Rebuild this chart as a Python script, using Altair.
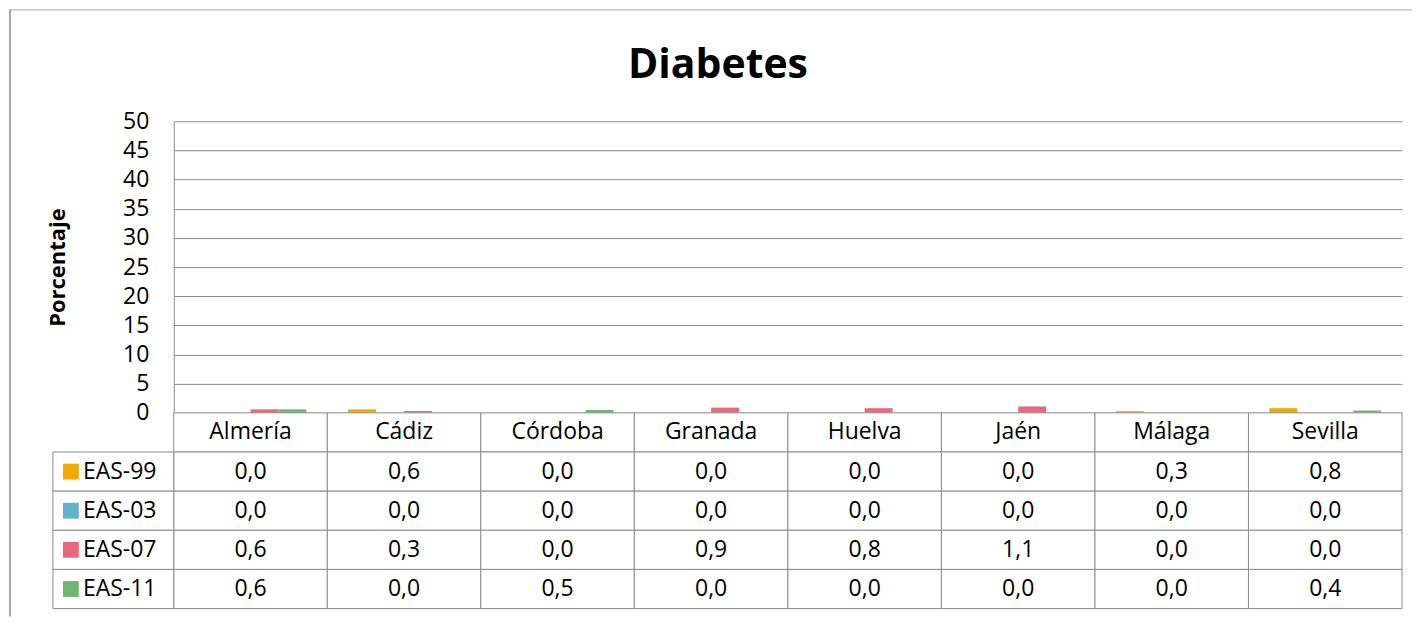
import altair as alt
import pandas as pd

categories = ["Almería", "Cádiz", "Córdoba", "Granada", "Huelva", "Jaén", "Málaga", "Sevilla"]
series = ["EAS-99", "EAS-03", "EAS-07", "EAS-11"]
eas99 = [0.0, 0.6, 0.0, 0.0, 0.0, 0.0, 0.3, 0.8]
eas03 = [0.0, 0.0, 0.0, 0.0, 0.0, 0.0, 0.0, 0.0]
eas07 = [0.6, 0.3, 0.0, 0.9, 0.8, 1.1, 0.0, 0.0]
eas11 = [0.6, 0.0, 0.5, 0.0, 0.0, 0.0, 0.0, 0.4]
colors = ["#F2A900", "#5FB4CC", "#E8687D", "#6BB86E"]
y_ticks = [0, 5, 10, 15, 20, 25, 30, 35, 40, 45, 50]
title_text = ["Diabetes"]

FONT = "Open Sans"
GRID = "#8C8C8C"
FRAME = "#A6A6A6"

values = [eas99, eas03, eas07, eas11]
rows = []
for s, vals in zip(series, values):
    for c, v in zip(categories, vals):
        rows.append({"cat": c, "series": s, "value": v,
                     "label": f"{v:.1f}".replace(".", ",")})
df = pd.DataFrame(rows)

HEADER = "hdr"
row_domain = [HEADER] + series
hdr = pd.DataFrame({"cat": categories, "series": HEADER, "label": categories})
table = pd.concat([hdr, df[["cat", "series", "label"]]], ignore_index=True)
legend_df = pd.DataFrame({"series": series})
one = pd.DataFrame({"a": [0]})
title_df = pd.DataFrame({"t": title_text})

W = 1230
H_TOP = 292
H_BOT = 196

color_scale = alt.Scale(domain=series, range=colors)

# ---- top: bar chart ----
bars = alt.Chart(df).mark_bar().encode(
    x=alt.X("cat:N", sort=categories, axis=None,
            scale=alt.Scale(paddingInner=0.2715, paddingOuter=0.13575)),
    xOffset=alt.XOffset("series:N", sort=series,
                        scale=alt.Scale(paddingInner=0, paddingOuter=0)),
    y=alt.Y("value:Q", scale=alt.Scale(domain=[0, 50], nice=False),
            axis=alt.Axis(values=y_ticks, grid=True, gridColor=GRID, ticks=False,
                          domainColor=GRID, labelFont=FONT, labelFontSize=23,
                          labelColor="black", labelPadding=25,
                          title="Porcentaje", titleFont=FONT, titleFontSize=22,
                          titleFontWeight="bold", titleColor="black",
                          titlePadding=53)),
    color=alt.Color("series:N", scale=color_scale, legend=None),
)

frame_top = alt.Chart(one).mark_rule(color=FRAME, strokeWidth=1).encode(
    x=alt.value(-165), x2=alt.value(1240), y=alt.value(-111.5))

title_mark = alt.Chart(title_df).mark_text(
    font=FONT, fontSize=41, fontWeight="bold", color="black",
    align="center", baseline="alphabetic").encode(
    x=alt.value(545), y=alt.value(-43), text="t:N")

top = alt.layer(bars, frame_top, title_mark).properties(width=W, height=H_TOP)

# ---- bottom: data table ----
cells = alt.Chart(table).mark_rect(fill="white", stroke=GRID, strokeWidth=1).encode(
    x=alt.X("cat:N", sort=categories, axis=None,
            scale=alt.Scale(paddingInner=0, paddingOuter=0)),
    y=alt.Y("series:N", axis=None, scale=alt.Scale(domain=row_domain,
                                                   paddingInner=0, paddingOuter=0)),
)
cell_text = alt.Chart(table).mark_text(font=FONT, fontSize=23, color="black").encode(
    x=alt.X("cat:N", sort=categories),
    y=alt.Y("series:N"),
    text="label:N",
)
leg_cells = alt.Chart(legend_df).mark_rect(fill="white", stroke=GRID, strokeWidth=1).encode(
    x=alt.value(-121), x2=alt.value(0),
    y=alt.Y("series:N"),
)
leg_sq = alt.Chart(legend_df).mark_square(size=250, opacity=1).encode(
    x=alt.value(-103),
    y=alt.Y("series:N"),
    color=alt.Color("series:N", scale=color_scale, legend=None),
)
leg_text = alt.Chart(legend_df).mark_text(font=FONT, fontSize=23, color="black",
                                          align="left").encode(
    x=alt.value(-91),
    y=alt.Y("series:N"),
    text="series:N",
)
frame_left = alt.Chart(one).mark_rule(color=FRAME, strokeWidth=2).encode(
    x=alt.value(-164), y=alt.value(-404), y2=alt.value(204))

bottom = alt.layer(cells, cell_text, leg_cells, leg_sq, leg_text, frame_left).properties(
    width=W, height=H_BOT)

chart = alt.vconcat(top, bottom, spacing=0, bounds="flush").properties(
    padding=0
).configure_view(stroke=None)

chart.save("out.html", embed_options={"renderer": "svg", "actions": False})
